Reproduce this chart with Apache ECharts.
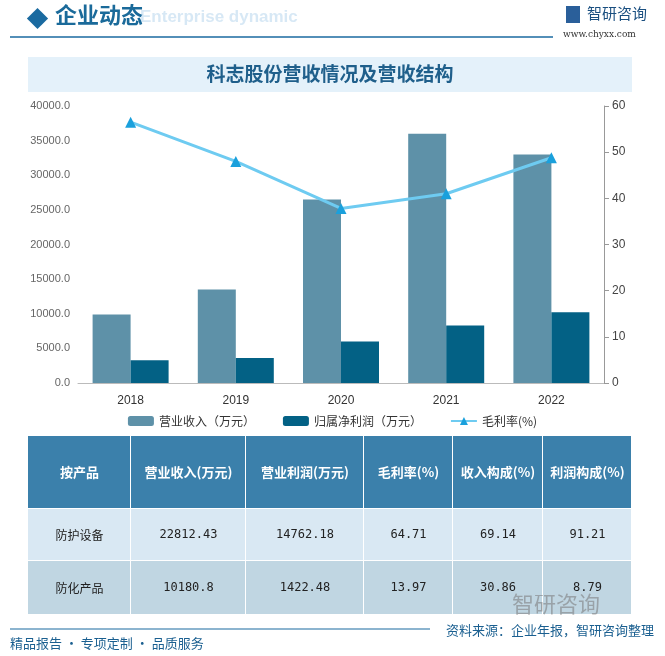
<!DOCTYPE html>
<html><head><meta charset="utf-8">
<script src="https://cdn.jsdelivr.net/npm/echarts@6/dist/echarts.min.js"></script>
<style>html,body{margin:0;padding:0;background:#fff}#c{width:665px;height:656px}</style>
</head><body><div id="c"></div>
<script>
const years = ['2018','2019','2020','2021','2022'];
const revenue = [9900, 13500, 26500, 36000, 33000];
const netProfit = [3300, 3600, 6000, 8300, 10200];
const grossMargin = [56.5, 48.0, 37.8, 41.0, 48.8];
const tableHead = ['按产品','营业收入(万元)','营业利润(万元)','毛利率(%)','收入构成(%)','利润构成(%)'];
const tableRow1 = ['防护设备','22812.43','14762.18','64.71','69.14','91.21'];
const tableRow2 = ['防化产品','10180.8','1422.48','13.97','30.86','8.79'];

const font = '"Noto Sans CJK SC","Noto Sans",sans-serif';
const colX = [28,131,246,364,453,543,632];
const rowY = [436,509,561,615];
const rowFill = ['#3b80ab','#d9e8f3','#c0d6e2'];
const rows = [tableHead, tableRow1, tableRow2];
const g = [];
g.push({type:'rect',shape:{x:30,y:11,width:15,height:15},rotation:Math.PI/4,originX:37.5,originY:18.5,style:{fill:'#1a6aa0'}});
g.push({type:'text',x:55,y:4,style:{text:'企业动态',font:'bold 22px '+font,fill:'#1a6a9a'}});
g.push({type:'text',x:140,y:9,style:{text:'Enterprise dynamic',font:'bold 17px sans-serif',fill:'rgba(140,190,225,0.35)'}});
g.push({type:'line',shape:{x1:10,y1:37,x2:553,y2:37},style:{stroke:'#1a6aa0',lineWidth:1.5}});
g.push({type:'rect',shape:{x:566,y:6,width:14,height:17},style:{fill:'#2a5f9a'}});
g.push({type:'text',x:587,y:6,style:{text:'智研咨询',font:'15px '+font,fill:'#1a4f80'}});
g.push({type:'text',x:563,y:30,style:{text:'www.chyxx.com',font:'9px "DejaVu Serif",serif',fill:'#333'}});
g.push({type:'rect',shape:{x:28,y:57,width:604,height:35},style:{fill:'#e4f1fa'}});
g.push({type:'text',x:330,y:74,style:{text:'科志股份营收情况及营收结构',font:'bold 19px "Noto Sans CJK SC",serif',fill:'#1f5f8b',align:'center',verticalAlign:'middle'}});
for(let r=0;r<3;r++){
  for(let c=0;c<6;c++){
    g.push({type:'rect',shape:{x:colX[c],y:rowY[r],width:colX[c+1]-colX[c]-1,height:rowY[r+1]-rowY[r]-1},style:{fill:rowFill[r]}});
    const isNum = r>0 && c>0;
    g.push({type:'text',x:(colX[c]+colX[c+1])/2,y:(rowY[r]+rowY[r+1])/2,style:{text:rows[r][c],
      font:(r===0?'bold 13px ':'12px ')+(isNum?'"DejaVu Sans Mono",monospace':font),
      fill:r===0?'#fff':'#222',align:'center',verticalAlign:'middle'}});
  }
}
g.push({type:'line',shape:{x1:10,y1:629,x2:430,y2:629},style:{stroke:'#1a6aa0',lineWidth:1.2}});
g.push({type:'text',x:10,y:643,style:{text:'精品报告 · 专项定制 · 品质服务',font:'13px '+font,fill:'#1a5f90',verticalAlign:'middle'}});
g.push({type:'text',x:654,y:630,style:{text:'资料来源：企业年报，智研咨询整理',font:'13px '+font,fill:'#1a5f90',align:'right',verticalAlign:'middle'}});
g.push({type:'text',x:512,y:604,style:{text:'智研咨询',font:'22px '+font,fill:'rgba(120,120,120,0.55)',verticalAlign:'middle'}});

const chart = echarts.init(document.getElementById('c'));
chart.setOption({
  animation:false,
  grid:{left:78,right:61,top:106,bottom:273},
  legend:{bottom:224,left:'center',itemGap:28,itemWidth:26,itemHeight:10,textStyle:{fontSize:12,color:'#333',fontFamily:font},
    data:['营业收入（万元）','归属净利润（万元）','毛利率(%)']},
  xAxis:{type:'category',data:years,axisTick:{show:false},axisLine:{lineStyle:{color:'#bbb'}},
    axisLabel:{color:'#333',fontSize:12,margin:12}},
  yAxis:[
    {type:'value',min:0,max:40000,interval:5000,splitLine:{show:false},axisLine:{show:false},
     axisLabel:{color:'#666',fontSize:11,formatter:v=>v.toFixed(1)}},
    {type:'value',min:0,max:60,interval:10,splitLine:{show:false},axisLine:{show:true,lineStyle:{color:'#999'}},
     axisTick:{show:true,inside:false,lineStyle:{color:'#999'}},axisLabel:{color:'#444',fontSize:12}}
  ],
  series:[
    {name:'营业收入（万元）',type:'bar',data:revenue,barWidth:38,barGap:'0%',itemStyle:{color:'#5e91a8'}},
    {name:'归属净利润（万元）',type:'bar',data:netProfit,barWidth:38,itemStyle:{color:'#036185'}},
    {name:'毛利率(%)',type:'line',yAxisIndex:1,data:grossMargin,symbol:'triangle',symbolSize:11,
     lineStyle:{color:'#6ecbf1',width:3},itemStyle:{color:'#1aa0dc'}}
  ],
  graphic:g
});
</script></body></html>
